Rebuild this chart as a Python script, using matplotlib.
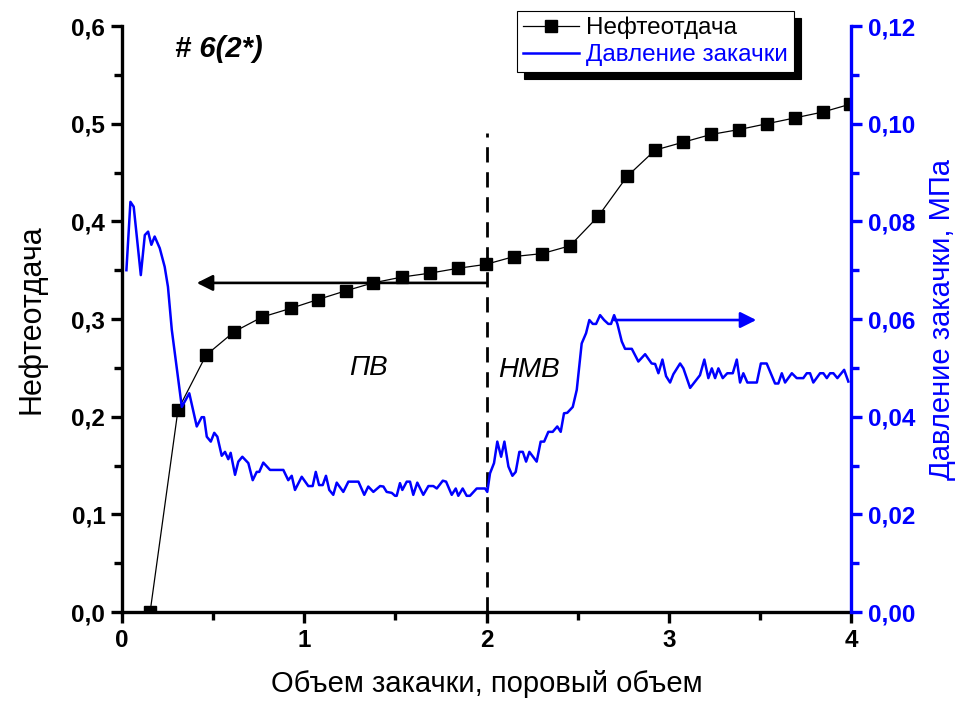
import matplotlib
matplotlib.use("Agg")
import matplotlib.pyplot as plt
from matplotlib.ticker import MultipleLocator, FuncFormatter

plt.rcParams['font.family'] = ['Liberation Sans', 'DejaVu Sans']

# нефтеотдача по закачанным поровым объемам
pv_oil = [0.154, 0.307, 0.461, 0.615, 0.768, 0.927, 1.075, 1.229, 1.377, 1.536,
          1.690, 1.844, 1.997, 2.151, 2.305, 2.458, 2.612, 2.771, 2.925, 3.078,
          3.232, 3.385, 3.539, 3.693, 3.846, 3.995]
oil_recovery = [0.000, 0.207, 0.263, 0.287, 0.302, 0.311, 0.320, 0.329, 0.337, 0.343,
                0.347, 0.352, 0.356, 0.364, 0.367, 0.375, 0.405, 0.446, 0.473, 0.481,
                0.489, 0.494, 0.500, 0.506, 0.512, 0.520]

# давление закачки, МПа
pv_press = [0.024, 0.046, 0.064, 0.103, 0.125, 0.143, 0.161, 0.179, 0.207, 0.234,
            0.252, 0.273, 0.328, 0.369, 0.410, 0.437, 0.450, 0.465, 0.487, 0.506,
            0.523, 0.547, 0.565, 0.583, 0.596, 0.620, 0.638, 0.660, 0.693, 0.717,
            0.739, 0.753, 0.775, 0.812, 0.885, 0.912, 0.931, 0.949, 0.986, 1.022,
            1.046, 1.063, 1.081, 1.101, 1.119, 1.137, 1.159, 1.178, 1.214, 1.242,
            1.297, 1.329, 1.351, 1.379, 1.416, 1.434, 1.452, 1.480, 1.498, 1.507,
            1.525, 1.538, 1.562, 1.580, 1.598, 1.620, 1.653, 1.681, 1.708, 1.727,
            1.760, 1.778, 1.809, 1.831, 1.845, 1.869, 1.891, 1.909, 1.946, 1.992,
            2.004, 2.019, 2.041, 2.059, 2.080, 2.098, 2.120, 2.142, 2.160, 2.180,
            2.199, 2.217, 2.235, 2.275, 2.297, 2.316, 2.339, 2.363, 2.388, 2.407,
            2.425, 2.443, 2.473, 2.495, 2.522, 2.546, 2.564, 2.583, 2.601, 2.623,
            2.645, 2.668, 2.683, 2.700, 2.718, 2.742, 2.760, 2.797, 2.833, 2.870,
            2.906, 2.925, 2.943, 2.965, 2.985, 3.007, 3.025, 3.062, 3.080, 3.117,
            3.171, 3.195, 3.217, 3.236, 3.254, 3.272, 3.296, 3.321, 3.351, 3.373,
            3.391, 3.409, 3.431, 3.483, 3.505, 3.537, 3.583, 3.601, 3.620, 3.638,
            3.675, 3.702, 3.738, 3.757, 3.775, 3.793, 3.830, 3.848, 3.867, 3.885,
            3.903, 3.925, 3.962, 3.985]
pressure = [0.0700, 0.0840, 0.0830, 0.0690, 0.0772, 0.0779, 0.0752, 0.0769, 0.0745, 0.0707,
            0.0666, 0.0578, 0.0420, 0.0448, 0.0380, 0.0399, 0.0399, 0.0359, 0.0349, 0.0367,
            0.0359, 0.0320, 0.0328, 0.0313, 0.0326, 0.0281, 0.0308, 0.0318, 0.0305, 0.0270,
            0.0287, 0.0287, 0.0306, 0.0291, 0.0291, 0.0270, 0.0279, 0.0250, 0.0277, 0.0258,
            0.0258, 0.0287, 0.0260, 0.0260, 0.0279, 0.0250, 0.0240, 0.0265, 0.0246, 0.0267,
            0.0267, 0.0240, 0.0257, 0.0246, 0.0258, 0.0257, 0.0246, 0.0244, 0.0238, 0.0238,
            0.0264, 0.0250, 0.0267, 0.0267, 0.0240, 0.0265, 0.0240, 0.0258, 0.0258, 0.0253,
            0.0269, 0.0267, 0.0240, 0.0253, 0.0238, 0.0253, 0.0238, 0.0238, 0.0253, 0.0253,
            0.0246, 0.0284, 0.0305, 0.0349, 0.0318, 0.0349, 0.0298, 0.0279, 0.0287, 0.0328,
            0.0328, 0.0308, 0.0328, 0.0308, 0.0349, 0.0349, 0.0369, 0.0369, 0.0380, 0.0369,
            0.0407, 0.0408, 0.0420, 0.0455, 0.0550, 0.0571, 0.0598, 0.0590, 0.0590, 0.0608,
            0.0598, 0.0590, 0.0590, 0.0608, 0.0590, 0.0554, 0.0539, 0.0539, 0.0513, 0.0528,
            0.0509, 0.0508, 0.0489, 0.0517, 0.0483, 0.0470, 0.0487, 0.0509, 0.0499, 0.0459,
            0.0485, 0.0517, 0.0479, 0.0499, 0.0479, 0.0499, 0.0479, 0.0489, 0.0489, 0.0517,
            0.0470, 0.0489, 0.0470, 0.0470, 0.0509, 0.0509, 0.0468, 0.0468, 0.0489, 0.0470,
            0.0489, 0.0479, 0.0479, 0.0489, 0.0489, 0.0470, 0.0489, 0.0489, 0.0479, 0.0489,
            0.0489, 0.0479, 0.0496, 0.0472]

blue = '#0000ff'

fig = plt.figure(figsize=(9.67, 7.06), dpi=100)
ax = fig.add_axes([0.1262, 0.1331, 0.7539, 0.8300])
ax2 = ax.twinx()

ln1, = ax.plot(pv_oil, oil_recovery, color='black', lw=0.9, marker='s',
               markersize=8.5, markerfacecolor='black', zorder=3)
ln2, = ax2.plot(pv_press, pressure, color=blue, lw=1.8)

# граница ПВ / НМВ
ax.plot([2, 2], [0, 0.49], color='black', lw=2, ls=(0, (5.5, 3.5)))

# стрелки к осям
ax.annotate('', xy=(0.41, 0.337), xytext=(1.997, 0.337),
            arrowprops=dict(arrowstyle='-|>', color='black', lw=1.9,
                            mutation_scale=24, shrinkA=0, shrinkB=0))
ax2.annotate('', xy=(3.48, 0.0598), xytext=(2.70, 0.0598),
             arrowprops=dict(arrowstyle='-|>', color=blue, lw=1.9,
                             mutation_scale=24, shrinkA=0, shrinkB=0))

ax.text(0.53, 0.577, '# 6(2*)', fontsize=21, fontweight='bold', fontstyle='italic',
        ha='center', va='center')
ax.text(1.35, 0.25, 'ПВ', fontsize=20, fontstyle='italic', ha='center', va='center')
ax.text(2.235, 0.248, 'НМВ', fontsize=20, fontstyle='italic', ha='center', va='center')

ax.set_xlim(0, 4)
ax.set_ylim(0, 0.6)
ax2.set_ylim(0, 0.12)

comma = lambda fmt: FuncFormatter(lambda v, p: (fmt % v).replace('.', ','))
ax.xaxis.set_major_locator(MultipleLocator(1))
ax.xaxis.set_minor_locator(MultipleLocator(0.5))
ax.xaxis.set_major_formatter(FuncFormatter(lambda v, p: '%d' % v))
ax.yaxis.set_major_locator(MultipleLocator(0.1))
ax.yaxis.set_minor_locator(MultipleLocator(0.05))
ax.yaxis.set_major_formatter(comma('%.1f'))
ax2.yaxis.set_major_locator(MultipleLocator(0.02))
ax2.yaxis.set_minor_locator(MultipleLocator(0.01))
ax2.yaxis.set_major_formatter(comma('%.2f'))

for a in (ax, ax2):
    a.spines['top'].set_visible(False)
    for s in a.spines.values():
        s.set_linewidth(2.4)
ax.spines['right'].set_visible(False)
ax2.spines['left'].set_visible(False)
ax2.spines['bottom'].set_visible(False)
ax2.spines['right'].set_color(blue)

ax.tick_params(which='major', direction='out', length=8, width=2.4, labelsize=17.5,
               pad=4)
ax.tick_params(which='minor', direction='out', length=5.5, width=2.4)
ax.tick_params(axis='x', which='both', top=False)
ax2.tick_params(which='major', direction='out', length=8, width=2.4, labelsize=17.5,
                colors=blue, pad=4)
ax2.tick_params(which='minor', direction='out', length=5.5, width=2.4, colors=blue)
for lab in ax.get_xticklabels() + ax.get_yticklabels() + ax2.get_yticklabels():
    lab.set_fontweight('bold')

ax.set_xlabel('Объем закачки, поровый объем', fontsize=21, labelpad=13)
ax.set_ylabel('Нефтеотдача', fontsize=22, labelpad=18)
ax2.set_ylabel('Давление закачки, МПа', fontsize=21, color=blue, labelpad=9)

leg = ax2.legend([ln1, ln2], ['Нефтеотдача', 'Давление закачки'],
                 loc='upper left', bbox_to_anchor=(0.542, 1.026), fontsize=17.5,
                 frameon=True, fancybox=False, shadow={'color': 'black', 'alpha': 1,
                                                       'ox': 5, 'oy': -5},
                 handlelength=2.3, borderpad=0.25, labelspacing=0.2,
                 handletextpad=0.3, borderaxespad=0)
leg.get_frame().set_edgecolor('black')
leg.get_frame().set_linewidth(0.8)
leg.get_texts()[1].set_color(blue)

fig.savefig('out.png', dpi=100)
